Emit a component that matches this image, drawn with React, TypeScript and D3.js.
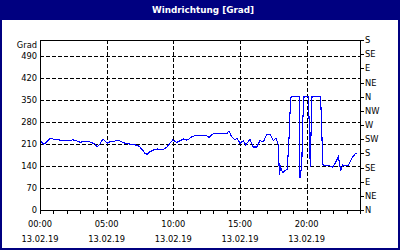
import React from "react";
import * as d3 from "d3";

const hours: number[] = [
  0.0, 0.3, 0.53, 0.75, 1.13, 1.5, 1.88, 2.25, 2.48, 2.78, 3.0, 3.38, 3.75, 4.13, 4.28, 4.5, 4.73,
  5.03, 5.25, 5.55, 5.85, 6.15, 6.38, 6.68, 6.98, 7.28, 7.5, 7.73, 7.88, 8.03, 8.25, 8.48, 8.78,
  9.0, 9.23, 9.53, 9.75, 9.95, 10.25, 10.5, 10.75, 11.0, 11.18, 11.38, 11.63, 12.0, 12.3, 12.5,
  12.68, 12.98, 13.5, 14.0, 14.18, 14.38, 14.63, 14.78, 15.0, 15.25, 15.43, 15.75, 16.0, 16.25,
  16.5, 16.75, 17.0, 17.25, 17.5, 17.7, 17.88, 17.95, 18.05, 18.2, 18.45, 18.55, 18.63, 18.7,
  18.75, 18.83, 19.43, 19.45, 19.5, 19.58, 19.63, 19.7, 19.75, 19.8, 20.12, 20.16, 20.2, 20.27,
  20.33, 20.4, 21.03, 21.07, 21.12, 21.17, 21.22, 21.75, 21.95, 22.13, 22.38, 22.55, 22.7, 22.88,
  23.13, 23.38, 23.63, 23.8,
];

const degrees: number[] = [
  220, 209, 218, 228, 224, 222, 220, 221, 223, 219, 215, 218, 216, 210, 200, 210, 226,
  212, 217, 218, 222, 216, 212, 210, 207, 206, 200, 188, 180, 177, 185, 190, 194,
  193, 192, 200, 213, 222, 215, 220, 226, 222, 226, 232, 236, 237, 236, 236,
  231, 242, 242, 242, 251, 232, 223, 228, 212, 220, 207, 224, 200, 200,
  220, 217, 239, 241, 220, 228, 207, 111, 136, 119, 127, 130, 197, 245,
  309, 360, 360, 300, 101, 127, 136, 277, 318, 360, 360, 318, 254, 138,
  250, 360, 360, 329, 276, 196, 143, 140, 136, 148, 170, 125, 143, 140,
  143, 164, 178, 180,
];

const xTickHours: number[] = d3.range(0, 25, 1);
const xLabelHours: number[] = [0, 5, 10, 15, 20];
const xLabelTimes: string[] = ["00:00", "05:00", "10:00", "15:00", "20:00"];
const xLabelDates: string[] = ["13.02.19", "13.02.19", "13.02.19", "13.02.19", "13.02.19"];
const yLeftTicks: number[] = [0, 70, 140, 210, 280, 350, 420, 490];
const yRightTicks: number[] = [0, 45, 90, 135, 180, 225, 270, 315, 360, 405, 450, 495, 540];
const yRightLabels: string[] = ["N", "NE", "E", "SE", "S", "SW", "W", "NW", "N", "NE", "E", "SE", "S"];

const W = 400;
const H = 250;
const L = 40;
const R = 360;
const T = 40;
const B = 210;
const NAVY = "#000080";
const FONT = "'DejaVu Sans', Verdana, sans-serif";

export default function App() {
  const x = d3.scaleLinear().domain([0, 24]).range([L, R]);
  const y = d3.scaleLinear().domain([0, 540]).range([B, T]);
  const line = d3
    .line<number>()
    .x((_, i) => x(hours[i]))
    .y((d) => y(d));
  const path = line(degrees) || "";
  const px = (v: number) => Math.round(v) + 0.5;

  return (
    <svg
      width={W}
      height={H}
      style={{ position: "absolute", left: 0, top: 0, background: "#fff" }}
      fontFamily={FONT}
    >
      <rect x={0} y={0} width={W} height={H} fill="#fff" />
      <rect x={0} y={0} width={W} height={20} fill={NAVY} />
      <rect x={1} y={1} width={W - 2} height={H - 2} fill="none" stroke={NAVY} strokeWidth={2} />
      <text
        x={203}
        y={12.5}
        textAnchor="middle"
        fill="#fff"
        fontWeight="bold"
        fontSize={8.8}
      >
        Windrichtung [Grad]
      </text>

      {/* grid */}
      <g stroke="#000" strokeWidth={1} strokeDasharray="4,2" shapeRendering="crispEdges">
        {yLeftTicks
          .filter((v) => v > 0)
          .map((v) => (
            <line key={"gy" + v} x1={L} x2={R} y1={px(y(v))} y2={px(y(v))} />
          ))}
        {xLabelHours
          .filter((h) => h > 0)
          .map((h) => (
            <line key={"gx" + h} x1={px(x(h))} x2={px(x(h))} y1={T} y2={B} />
          ))}
      </g>

      {/* data */}
      <path d={path} fill="none" stroke="#0000ff" strokeWidth={1.1} shapeRendering="crispEdges" />

      {/* frame */}
      <rect
        x={L + 0.5}
        y={T + 0.5}
        width={R - L}
        height={B - T}
        fill="none"
        stroke="#000"
        strokeWidth={1}
        shapeRendering="crispEdges"
      />

      {/* x ticks */}
      <g stroke="#000" shapeRendering="crispEdges">
        {xTickHours.map((h) => (
          <line key={"xt" + h} x1={px(x(h))} x2={px(x(h))} y1={B} y2={B + 4} />
        ))}
      </g>
      <g fontSize={8.3} fill="#000" textAnchor="middle">
        {xLabelHours.map((h, i) => (
          <g key={"xl" + h}>
            <text x={x(h)} y={226.5}>
              {xLabelTimes[i]}
            </text>
            <text x={x(h)} y={241.5}>
              {xLabelDates[i]}
            </text>
          </g>
        ))}
      </g>

      {/* left labels */}
      <g fontSize={8.3} fill="#000" textAnchor="end">
        {yLeftTicks.map((v) => (
          <text key={"yl" + v} x={37} y={y(v) + 3}>
            {v}
          </text>
        ))}
        <text x={37} y={48}>
          Grad
        </text>
      </g>

      {/* right axis */}
      <g stroke="#000" shapeRendering="crispEdges">
        {yRightTicks.map((v) => (
          <line key={"rt" + v} x1={R} x2={R + 4} y1={px(y(v))} y2={px(y(v))} />
        ))}
      </g>
      <g fontSize={8.3} fill="#000" textAnchor="start">
        {yRightTicks.map((v, i) => (
          <text key={"rl" + v} x={365} y={y(v) + 3}>
            {yRightLabels[i]}
          </text>
        ))}
      </g>
    </svg>
  );
}
